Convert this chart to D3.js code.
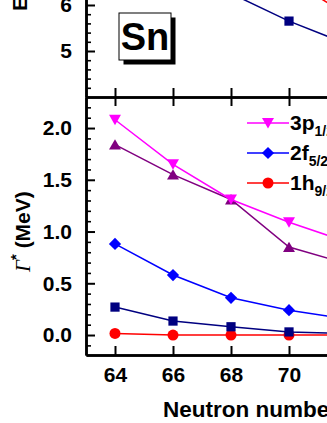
<!DOCTYPE html>
<html>
<head>
<meta charset="utf-8">
<script src="https://cdn.jsdelivr.net/npm/d3@7"></script>
<style>
  body { margin: 0; background: #fff; }
  svg { display: block; font-family: "Liberation Sans", Arial, sans-serif; }
  .axis path, .axis line { stroke: #000; }
  .axis text { font-size: 21px; font-weight: bold; fill: #000; }
</style>
</head>
<body>
<div id="chart"></div>
<script>
// neutron numbers and values
var neutrons = [64, 66, 68, 70, 72];
var xTicks = [64, 66, 68, 70, 72];
var xTickLabels = ["64", "66", "68", "70"];

// lower panel: widths (MeV)
var width3p12 = [2.08, 1.65, 1.31, 1.09, 0.90];
var widthTri = [1.84, 1.55, 1.31, 0.85, 0.69];
var width2f52 = [0.88, 0.58, 0.36, 0.24, 0.155];
var widthSq = [0.27, 0.135, 0.08, 0.03, 0.015];
var width1h92 = [0.015, 0.0, 0.0, 0.0, 0.0];

var lowMajor = [0, 0.5, 1.0, 1.5, 2.0];
var lowMinor = [-0.1, 0.1, 0.2, 0.3, 0.4, 0.6, 0.7, 0.8, 0.9, 1.1, 1.2, 1.3, 1.4, 1.6, 1.7, 1.8, 1.9, 2.1, 2.2];

// upper panel: energies (only the bottom of it is in the picture)
var upNeutronsSq = [68, 70, 72];
var upEnergySq = [6.25, 5.65, 5.15];
var upNeutronsCirc = [70, 72];
var upEnergyCirc = [6.55, 5.8];
var upMajor = [5, 6];
var upMinor = [4.2, 4.4, 4.6, 4.8, 5.2, 5.4, 5.6, 5.8, 6.2, 6.4];

var legendNames = [["3p", "1/2"], ["2f", "5/2"], ["1h", "9/2"]];

var W = 327, H = 423;

var svg = d3.select("#chart")
  .append("svg")
  .attr("width", W)
  .attr("height", H);

svg.append("rect").attr("width", W).attr("height", H).attr("fill", "#fff");

var xScale = d3.scaleLinear().domain([63, 74]).range([86, 86 + 11 * 29]);
var yLow = d3.scaleLinear().domain([-0.193, 2.30]).range([355, 97]);
var yUp = d3.scaleLinear().domain([4, 6.5]).range([97, -18]);

// clip areas
var defs = svg.append("defs");
defs.append("clipPath").attr("id", "clip-low")
  .append("rect").attr("x", 86).attr("y", 97).attr("width", 400).attr("height", 258);
defs.append("clipPath").attr("id", "clip-up")
  .append("rect").attr("x", 86).attr("y", -100).attr("width", 400).attr("height", 197);

// ---- axes ----
function styleAxis(g, w, tw) {
  g.select(".domain").attr("stroke-width", w);
  g.selectAll(".tick line").attr("stroke-width", tw);
}

// lower panel left axis
svg.append("g")
  .attr("class", "axis")
  .attr("transform", "translate(86,0)")
  .call(d3.axisLeft(yLow).tickValues(lowMinor).tickSizeInner(-5).tickSizeOuter(0).tickFormat(""))
  .call(styleAxis, 2.5, 1.6);
svg.append("g")
  .attr("class", "axis")
  .attr("transform", "translate(86,0)")
  .call(d3.axisLeft(yLow).tickValues(lowMajor).tickSizeInner(-9).tickSizeOuter(0).tickPadding(14).tickFormat(d3.format(".1f")))
  .call(styleAxis, 2.5, 2);

// upper panel left axis
svg.append("g")
  .attr("class", "axis")
  .attr("transform", "translate(86,0)")
  .call(d3.axisLeft(yUp).tickValues(upMinor).tickSizeInner(-5).tickSizeOuter(0).tickFormat(""))
  .call(styleAxis, 2.5, 1.6);
svg.append("g")
  .attr("class", "axis")
  .attr("transform", "translate(86,0)")
  .call(d3.axisLeft(yUp).tickValues(upMajor).tickSizeInner(-9).tickSizeOuter(0).tickPadding(14).tickFormat(d3.format("d")))
  .call(styleAxis, 2.5, 2);

// bottom axis of lower panel (72 is beyond the crop, so only its tick)
svg.append("g")
  .attr("class", "axis")
  .attr("transform", "translate(0,355)")
  .call(d3.axisBottom(xScale).tickValues(xTicks.slice(0, 4)).tickSizeInner(-9).tickSizeOuter(0).tickPadding(12)
    .tickFormat(function(d, i) { return xTickLabels[i]; }))
  .call(styleAxis, 2.5, 2);
svg.append("g")
  .attr("class", "axis")
  .attr("transform", "translate(0,355)")
  .call(d3.axisBottom(xScale).tickValues(xTicks.slice(4)).tickSizeInner(-9).tickSizeOuter(0).tickFormat(""))
  .call(styleAxis, 2.5, 2);

// shared middle line: ticks up into the upper panel and down into the lower one
svg.append("g")
  .attr("class", "axis")
  .attr("transform", "translate(0,97)")
  .call(d3.axisBottom(xScale).tickValues(xTicks).tickSizeInner(-9).tickSizeOuter(0).tickFormat(""))
  .call(styleAxis, 2.5, 2);
svg.append("g")
  .attr("class", "axis")
  .attr("transform", "translate(0,97)")
  .call(d3.axisTop(xScale).tickValues(xTicks).tickSizeInner(-9).tickSizeOuter(0).tickFormat(""))
  .call(styleAxis, 2.5, 2);

// ---- axis titles ----
svg.append("text")
  .attr("x", 163)
  .attr("y", 417)
  .attr("font-size", "22.5px")
  .attr("font-weight", "bold")
  .text("Neutron number");

var gLabel = svg.append("text")
  .attr("transform", "translate(30,272) rotate(-90)")
  .attr("font-size", "21px");
gLabel.append("tspan")
  .attr("font-family", "'Liberation Serif', 'DejaVu Serif', serif")
  .attr("font-style", "italic")
  .text("Γ");
gLabel.append("tspan")
  .attr("font-size", "15px")
  .attr("font-weight", "bold")
  .attr("dy", -9)
  .text("*");
gLabel.append("tspan")
  .attr("font-weight", "bold")
  .attr("dy", 9)
  .text(" (MeV)");

svg.append("text")
  .attr("transform", "translate(27,11) rotate(-90)")
  .attr("font-size", "21px")
  .attr("font-weight", "bold")
  .text("E (MeV)");

// ---- series ----
var line = d3.line()
  .x(function(d) { return xScale(d.n); })
  .y(function(d) { return d.y; });

function zip(ns, vs, scale) {
  return ns.map(function(n, i) { return { n: n, y: scale(vs[i]) }; });
}

var triUp = d3.symbol().type(d3.symbolTriangle).size(62);
var square = d3.symbol().type(d3.symbolSquare).size(85);
var circle = d3.symbol().type(d3.symbolCircle).size(95);

var lowSeries = [
  { vals: width1h92, color: "#ff0000", sym: circle, rot: 0 },
  { vals: widthSq, color: "#000080", sym: square, rot: 0 },
  { vals: width2f52, color: "#0000ff", sym: d3.symbol().type(d3.symbolSquare).size(75), rot: 45 },
  { vals: widthTri, color: "#800080", sym: triUp, rot: 0 },
  { vals: width3p12, color: "#ff00ff", sym: triUp, rot: 180 }
];

var low = svg.append("g").attr("clip-path", "url(#clip-low)");

lowSeries.forEach(function(s) {
  var pts = zip(neutrons, s.vals, yLow);
  low.append("path")
    .datum(pts)
    .attr("d", line)
    .attr("fill", "none")
    .attr("stroke", s.color)
    .attr("stroke-width", 1.5);
  low.selectAll(null)
    .data(pts)
    .enter().append("path")
    .attr("d", s.sym)
    .attr("fill", s.color)
    .attr("transform", function(d) {
      var dy = s.sym === triUp ? (s.rot ? -1.5 : 1.5) : 0;
      return "translate(" + xScale(d.n) + "," + (d.y + dy) + ") rotate(" + s.rot + ")";
    });
});

var up = svg.append("g").attr("clip-path", "url(#clip-up)");
[
  { ns: upNeutronsCirc, vals: upEnergyCirc, color: "#ff0000", sym: circle },
  { ns: upNeutronsSq, vals: upEnergySq, color: "#000080", sym: square }
].forEach(function(s) {
  var pts = zip(s.ns, s.vals, yUp);
  up.append("path")
    .datum(pts)
    .attr("d", line)
    .attr("fill", "none")
    .attr("stroke", s.color)
    .attr("stroke-width", 1.5);
  up.selectAll(null)
    .data(pts)
    .enter().append("path")
    .attr("d", s.sym)
    .attr("fill", s.color)
    .attr("transform", function(d) { return "translate(" + xScale(d.n) + "," + d.y + ")"; });
});

// ---- legend ----
var legendSeries = [lowSeries[4], lowSeries[2], lowSeries[0]];
var legend = svg.append("g");
legendSeries.forEach(function(s, i) {
  var y = 123 + i * 30;
  legend.append("line")
    .attr("x1", 247).attr("x2", 289)
    .attr("y1", y).attr("y2", y)
    .attr("stroke", s.color)
    .attr("stroke-width", 1.5);
  legend.append("path")
    .attr("d", s.sym)
    .attr("fill", s.color)
    .attr("transform", "translate(268," + (y + (s.sym === triUp ? -1.5 : 0)) + ") rotate(" + s.rot + ")");
  var t = legend.append("text")
    .attr("x", 290)
    .attr("y", y + 7)
    .attr("font-size", "21px")
    .attr("font-weight", "bold");
  t.append("tspan").text(legendNames[i][0]);
  t.append("tspan").attr("font-size", "14px").attr("dy", 6).text(legendNames[i][1]);
});

// ---- "Sn" box ----
svg.append("rect")
  .attr("x", 123.5).attr("y", 17.5)
  .attr("width", 52).attr("height", 47)
  .attr("fill", "#000");
svg.append("rect")
  .attr("x", 119).attr("y", 13)
  .attr("width", 52).attr("height", 47)
  .attr("fill", "#fff")
  .attr("stroke", "#000")
  .attr("stroke-width", 1);
svg.append("text")
  .attr("x", 145)
  .attr("y", 50)
  .attr("text-anchor", "middle")
  .attr("font-size", "38px")
  .attr("font-weight", "bold")
  .text("Sn");
</script>
</body>
</html>
